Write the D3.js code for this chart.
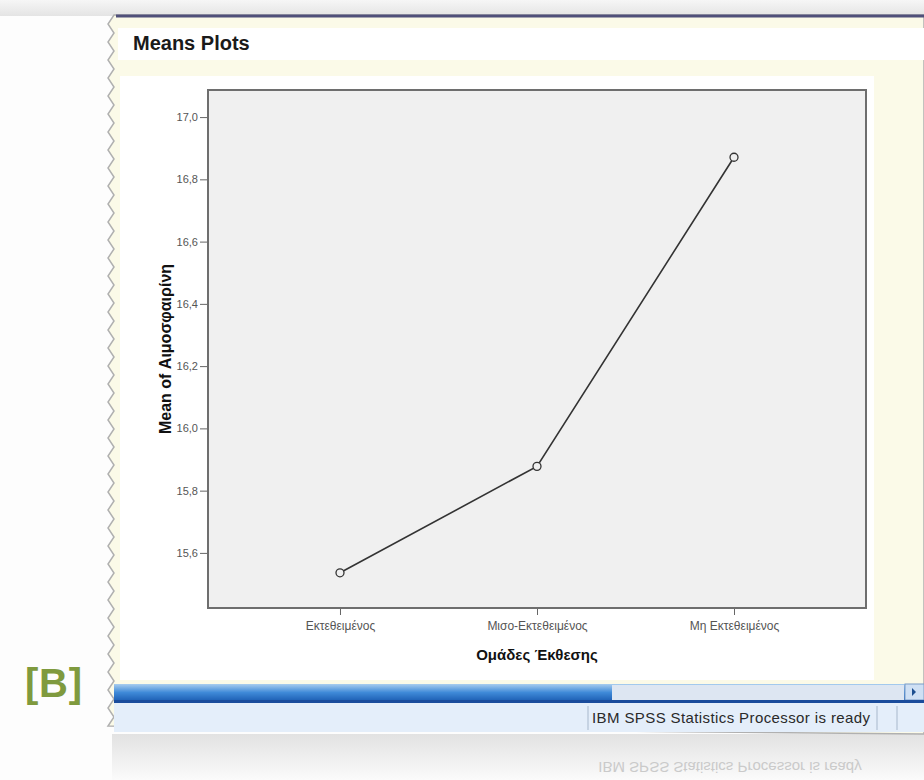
<!DOCTYPE html>
<html>
<head>
<meta charset="utf-8">
<script src="https://cdn.jsdelivr.net/npm/d3@7"></script>
<style>
  body { margin: 0; background: #fff; }
  svg { display: block; }
</style>
</head>
<body>
<div id="chart"></div>
<script>
// data
var groups = ["Εκτεθειμένος", "Μισο-Εκτεθειμένος", "Μη Εκτεθειμένος"];
var means = [15.536, 15.878, 16.871];
var yTicks = [15.6, 15.8, 16.0, 16.2, 16.4, 16.6, 16.8, 17.0];
var yDomain = [15.423, 17.087];

var W = 924, H = 780;
var plot = { left: 208, top: 90, right: 866, bottom: 608 };

var svg = d3.select("#chart").append("svg")
    .attr("width", W).attr("height", H)
    .style("font-family", "'Liberation Sans', Arial, sans-serif");

var defs = svg.append("defs");
var g1 = defs.append("linearGradient").attr("id", "scroll").attr("x1", 0).attr("y1", 0).attr("x2", 0).attr("y2", 1);
g1.append("stop").attr("offset", "0").attr("stop-color", "#a9cdef");
g1.append("stop").attr("offset", "0.5").attr("stop-color", "#3f8ad8");
g1.append("stop").attr("offset", "1").attr("stop-color", "#1d5fb4");
var g2 = defs.append("linearGradient").attr("id", "topfade").attr("x1", 0).attr("y1", 0).attr("x2", 0).attr("y2", 1);
g2.append("stop").attr("offset", "0").attr("stop-color", "#f6f6f6");
g2.append("stop").attr("offset", "1").attr("stop-color", "#e4e4e4");
var g3 = defs.append("linearGradient").attr("id", "refl").attr("x1", 0).attr("y1", 0).attr("x2", 0).attr("y2", 1);
g3.append("stop").attr("offset", "0").attr("stop-color", "#e2e2e2");
g3.append("stop").attr("offset", "1").attr("stop-color", "#fbfbfb");

// page background
svg.append("rect").attr("width", W).attr("height", H).attr("fill", "#fdfdfd");
svg.append("rect").attr("width", W).attr("height", 16).attr("fill", "url(#topfade)");
svg.append("rect").attr("x", 112).attr("y", 734).attr("width", W - 112).attr("height", 46).attr("fill", "url(#refl)");
svg.append("text").attr("x", 730).attr("y", 766).attr("text-anchor", "middle")
    .attr("transform", "translate(0,1528) scale(1,-1)")
    .attr("font-size", 15).attr("fill", "#cacaca")
    .text("IBM SPSS Statistics Processor is ready");

// window with torn left edge
var edge = [];
for (var yy = 15; yy <= 734; yy += 9) {
  edge.push([((yy / 9) % 2 < 1 ? 108 : 114), yy]);
}
var win = svg.append("g");
var path = "M" + W + ",15 L" + edge.map(function(p) { return p.join(","); }).join(" L") + " L" + W + ",734 Z";
win.append("path").attr("d", path).attr("fill", "#fbfae8")
    .attr("stroke", "#b0b0b0").attr("stroke-width", 1.5);
win.append("rect").attr("x", 118).attr("y", 28).attr("width", W - 118).attr("height", 32).attr("fill", "#ffffff");
win.append("line").attr("x1", 116).attr("x2", W).attr("y1", 16).attr("y2", 16)
    .attr("stroke", "#50507a").attr("stroke-width", 3);
win.append("text").attr("x", 133).attr("y", 50).attr("font-size", 20).attr("font-weight", "bold")
    .attr("fill", "#1a1a1a").text("Means Plots");

// chart image area
win.append("rect").attr("x", 120).attr("y", 76).attr("width", 754).attr("height", 604).attr("fill", "#ffffff");

// scroll bar + status bar
win.append("rect").attr("x", 114).attr("y", 684).attr("width", W - 114).attr("height", 17).attr("fill", "url(#scroll)");
win.append("rect").attr("x", 612).attr("y", 685).attr("width", 292).attr("height", 15).attr("fill", "#dde6f2");
win.append("rect").attr("x", 905).attr("y", 684).attr("width", 19).attr("height", 16).attr("fill", "#cfe0f4").attr("stroke", "#7a9cc8");
win.append("path").attr("d", "M912,688 L916,692 L912,696 Z").attr("fill", "#1d4f90");
win.append("rect").attr("x", 114).attr("y", 700).attr("width", W - 114).attr("height", 3).attr("fill", "#1a4c9c");
win.append("rect").attr("x", 114).attr("y", 703).attr("width", W - 114).attr("height", 29).attr("fill", "#e4eefa");
[588, 877, 897].forEach(function(x) {
  win.append("line").attr("x1", x).attr("x2", x).attr("y1", 706).attr("y2", 730).attr("stroke", "#a8b8cc");
});
win.append("text").attr("x", 592).attr("y", 723).attr("font-size", 15).attr("fill", "#2a2a2a")
    .attr("textLength", 278).text("IBM SPSS Statistics Processor is ready");

svg.append("text").attr("x", 25).attr("y", 697).attr("font-size", 40).attr("font-weight", "bold")
    .attr("textLength", 57)
    .attr("fill", "#7f9a3e").text("[B]");

// scales
var x = d3.scalePoint().domain(groups).range([plot.left, plot.right]).padding(0.67);
var y = d3.scaleLinear().domain(yDomain).range([plot.bottom, plot.top]);
var commaFmt = d3.formatLocale({ decimal: ",", thousands: ".", grouping: [3], currency: ["", ""] }).format(".1f");

var chart = svg.append("g");
chart.append("rect").attr("x", plot.left).attr("y", plot.top)
    .attr("width", plot.right - plot.left).attr("height", plot.bottom - plot.top)
    .attr("fill", "#f0f0f0").attr("stroke", "#6e6e6e").attr("stroke-width", 2);

var yAxis = chart.append("g").attr("transform", "translate(" + (plot.left - 1) + ",0)")
    .call(d3.axisLeft(y).tickValues(yTicks).tickSize(7).tickPadding(2).tickFormat(commaFmt));
yAxis.select(".domain").remove();
yAxis.selectAll("line").attr("stroke", "#666");
yAxis.selectAll("text").attr("font-size", 11).attr("fill", "#555").attr("font-family", "'Liberation Sans', Arial, sans-serif");

var xAxis = chart.append("g").attr("transform", "translate(0," + (plot.bottom + 1) + ")")
    .call(d3.axisBottom(x).tickSize(6).tickPadding(6));
xAxis.select(".domain").remove();
xAxis.selectAll("line").attr("stroke", "#666");
xAxis.selectAll("text").attr("font-size", 12).attr("fill", "#555").attr("font-family", "'Liberation Sans', Arial, sans-serif");

var line = d3.line().x(function(d, i) { return x(groups[i]); }).y(function(d) { return y(d); });
chart.append("path").datum(means).attr("d", line)
    .attr("fill", "none").attr("stroke", "#333").attr("stroke-width", 1.6);
chart.selectAll("circle.pt").data(means).enter().append("circle")
    .attr("class", "pt")
    .attr("cx", function(d, i) { return x(groups[i]); })
    .attr("cy", function(d) { return y(d); })
    .attr("r", 4).attr("fill", "#f0f0f0").attr("stroke", "#333").attr("stroke-width", 1.3);

chart.append("text").attr("x", x(groups[1])).attr("y", 660).attr("text-anchor", "middle")
    .attr("font-size", 15).attr("font-weight", "bold").attr("fill", "#111").text("Ομάδες Έκθεσης");
chart.append("text").attr("transform", "translate(171,349) rotate(-90)")
    .attr("text-anchor", "middle").attr("font-size", 16).attr("font-weight", "bold").attr("fill", "#111")
    .text("Mean of Αιμοσφαιρίνη");
</script>
</body>
</html>
